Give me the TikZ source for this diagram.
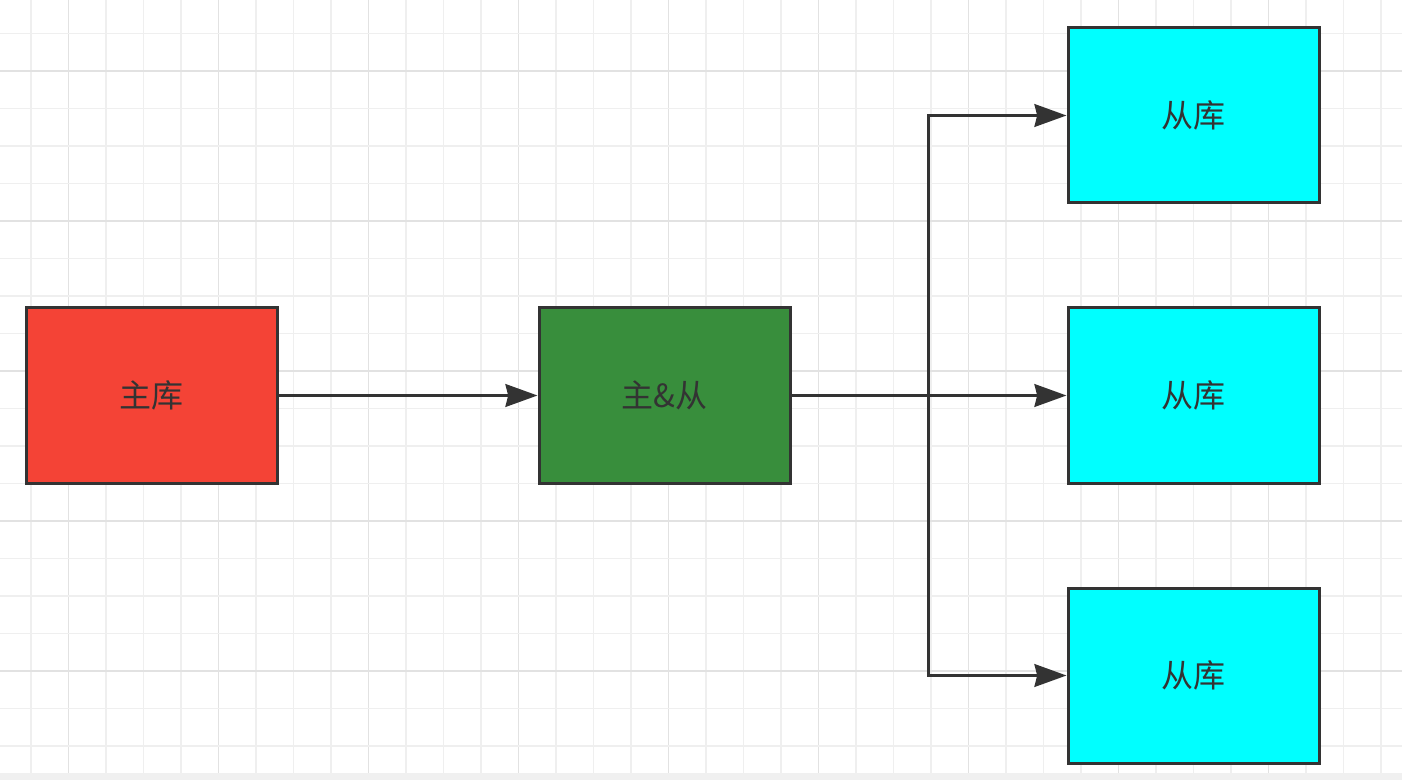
\documentclass[tikz,border=0pt]{standalone}
\usepackage{fontspec}
\newfontfamily\cjk{Noto Sans CJK SC}
\usetikzlibrary{arrows.meta}
\definecolor{gridminor}{HTML}{EFEFEF}
\definecolor{gridmajor}{HTML}{E2E2E2}
\definecolor{edgecol}{HTML}{333333}
\definecolor{redfill}{HTML}{F44336}
\definecolor{greenfill}{HTML}{388E3C}
\definecolor{cyanfill}{HTML}{00FFFF}
\definecolor{stripcol}{HTML}{F0F0F0}
\tikzset{
  dbbox/.style={draw=edgecol, line width=2.25pt, minimum width=188.25pt, minimum height=131.25pt,
    inner sep=0pt, font=\cjk\fontsize{24}{28}\selectfont, text=edgecol},
  conn/.style={draw=edgecol, line width=2.25pt, -{Stealth[length=24pt,width=17pt,inset=2pt]}},
}
\begin{document}
\begin{tikzpicture}[x=0.75pt,y=-0.75pt]
\useasboundingbox (0,0) rectangle (1402,780);
\fill[white] (0,0) rectangle (1402,780);
% grid
\foreach \k in {0,...,36}{
  \pgfmathsetmacro{\xx}{31+37.5*\k}
  \pgfmathtruncatemacro{\mm}{mod(\k+3,4)}
  \ifnum\mm=0
    \draw[gridmajor, line width=1.3pt] (\xx,0) -- (\xx,780);
  \else
    \draw[gridminor, line width=1.1pt] (\xx,0) -- (\xx,780);
  \fi
}
\foreach \k in {0,...,20}{
  \pgfmathsetmacro{\yy}{33.5+37.5*\k}
  \pgfmathtruncatemacro{\mm}{mod(\k+3,4)}
  \ifnum\mm=0
    \draw[gridmajor, line width=1.3pt] (0,\yy) -- (1402,\yy);
  \else
    \draw[gridminor, line width=1.1pt] (0,\yy) -- (1402,\yy);
  \fi
}
\fill[stripcol] (0,773) rectangle (1402,780);
% nodes
\node[dbbox, fill=redfill] (master) at (151.5,395.5) {主库};
\node[dbbox, fill=greenfill] (mid) at (664.5,395.5) {主\&从};
\node[dbbox, fill=cyanfill] (s1) at (1193.5,115.5) {从库};
\node[dbbox, fill=cyanfill] (s2) at (1193.5,395.5) {从库};
\node[dbbox, fill=cyanfill] (s3) at (1193.5,675.5) {从库};
\coordinate (j) at (928,395.5);
% connectors
\draw[conn] (master) -- (mid);
\draw[conn] (mid) -- (s2);
\draw[conn] (j) |- (s1.west);
\draw[conn] (j) |- (s3.west);
\end{tikzpicture}
\end{document}
